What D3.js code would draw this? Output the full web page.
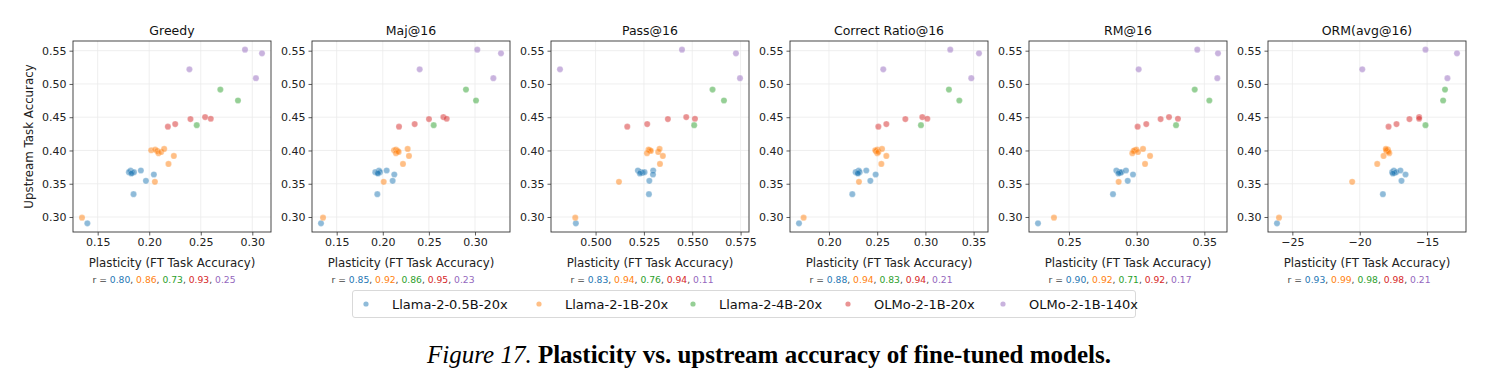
<!DOCTYPE html>
<html><head><meta charset="utf-8">
<script src="https://cdn.jsdelivr.net/npm/d3@7"></script>
<style>body{margin:0;background:#fff}text{font-family:"DejaVu Sans",sans-serif}text.cap{font-family:"Liberation Serif","Times New Roman",serif}</style>
</head><body><svg id="c" width="1489" height="385"></svg>
<script>
const panelTitles = ["Greedy","Maj@16","Pass@16","Correct Ratio@16","RM@16","ORM(avg@16)"];
const seriesNames = ["Llama-2-0.5B-20x","Llama-2-1B-20x","Llama-2-4B-20x","OLMo-2-1B-20x","OLMo-2-1B-140x"];
const seriesColors = ["#1f77b4","#ff7f0e","#2ca02c","#d62728","#9467bd"];
// upstream accuracy per series (same in every panel)
const yLlama05 = [0.3699,0.3674,0.3664,0.3674,0.3654,0.3699,0.3639,0.3544,0.3343,0.2905];
const yLlama1  = [0.4003,0.4013,0.3993,0.3960,0.3978,0.4023,0.3918,0.3798,0.3529,0.2990];
const yLlama4  = [0.4916,0.4751,0.4380];
const yOlmo20  = [0.4357,0.4397,0.4472,0.4502,0.4477];
const yOlmo140 = [0.5515,0.5460,0.5220,0.5086];
// plasticity per panel, per series
const xGreedy = [
  [0.1819,0.1803,0.1835,0.1852,0.1826,0.1919,0.2045,0.1968,0.1848,0.1400],
  [0.2019,0.2058,0.2077,0.2090,0.2116,0.2145,0.2239,0.2187,0.2055,0.1348],
  [0.2690,0.2861,0.2461],
  [0.2181,0.2252,0.2400,0.2542,0.2597],
  [0.2929,0.3094,0.2390,0.3035]];
const xMaj = [
  [0.1959,0.1919,0.1941,0.1970,0.1948,0.2042,0.2125,0.2107,0.1941,0.1330],
  [0.2122,0.2143,0.2161,0.2143,0.2172,0.2270,0.2284,0.2219,0.2010,0.1352],
  [0.2902,0.3011,0.2552],
  [0.2176,0.2346,0.2501,0.2657,0.2693],
  [0.3025,0.3282,0.2400,0.3199]];
const xPass = [
  [0.5219,0.5233,0.5243,0.5253,0.5229,0.5298,0.5297,0.5278,0.5276,0.4898],
  [0.5281,0.5274,0.5286,0.5266,0.5324,0.5331,0.5348,0.5333,0.5121,0.4895],
  [0.5605,0.5664,0.5510],
  [0.5164,0.5267,0.5374,0.5469,0.5514],
  [0.5447,0.5726,0.4816,0.5747]];
const xCorrect = [
  [0.2308,0.2277,0.2297,0.2318,0.2300,0.2387,0.2484,0.2429,0.2242,0.1689],
  [0.2480,0.2501,0.2487,0.2501,0.2512,0.2550,0.2595,0.2543,0.2311,0.1737],
  [0.3244,0.3352,0.2954],
  [0.2512,0.2595,0.2792,0.2968,0.3020],
  [0.3258,0.3556,0.2563,0.3476]];
const xRM = [
  [0.2850,0.2870,0.2879,0.2887,0.2865,0.2921,0.2973,0.2934,0.2825,0.2271],
  [0.2985,0.2998,0.2978,0.2968,0.3010,0.3047,0.3099,0.3062,0.2867,0.2389],
  [0.3429,0.3537,0.3291],
  [0.3007,0.3071,0.3177,0.3239,0.3305],
  [0.3448,0.3601,0.3015,0.3596]];
const xORM = [
  [-17.47,-17.59,-17.42,-17.30,-17.54,-16.98,-16.60,-16.90,-18.28,-26.14],
  [-18.04,-17.91,-17.99,-17.81,-17.86,-18.06,-18.23,-18.70,-20.56,-25.99],
  [-13.67,-13.81,-15.12],
  [-17.86,-17.27,-16.31,-15.59,-15.59],
  [-15.12,-12.78,-19.81,-13.49]];
const rValues = [
  ["0.80","0.86","0.73","0.93","0.25"],
  ["0.85","0.92","0.86","0.95","0.23"],
  ["0.83","0.94","0.76","0.94","0.11"],
  ["0.88","0.94","0.83","0.94","0.21"],
  ["0.90","0.92","0.71","0.92","0.17"],
  ["0.93","0.99","0.98","0.98","0.21"]];
const xTicks = [
  [0.15,0.20,0.25,0.30],[0.15,0.20,0.25,0.30],[0.500,0.525,0.550,0.575],
  [0.20,0.25,0.30,0.35],[0.25,0.30,0.35],[-25,-20,-15]];
const xTickFormats = [".2f",".2f",".3f",".2f",".2f","d"];
const yTicks = [0.30,0.35,0.40,0.45,0.50,0.55];
const yLabel = "Upstream Task Accuracy";
const xLabel = "Plasticity (FT Task Accuracy)";

const ySeries = [yLlama05,yLlama1,yLlama4,yOlmo20,yOlmo140];
const xPanels = [xGreedy,xMaj,xPass,xCorrect,xRM,xORM];

const svg = d3.select("#c");
svg.append("rect").attr("width",1489).attr("height",385).attr("fill","#fff");

const left0 = 73, step = 239, pw = 198, pTop = 41, pBot = 232;
const allY = ySeries.flat();
const yPad = (d3.max(allY)-d3.min(allY))*0.05;
const y = d3.scaleLinear().domain([d3.min(allY)-yPad, d3.max(allY)+yPad]).range([pBot, pTop]);

xPanels.forEach((xs, p) => {
  const L = left0 + p*step;
  const allX = xs.flat();
  const pad = (d3.max(allX)-d3.min(allX))*0.05;
  const x = d3.scaleLinear().domain([d3.min(allX)-pad, d3.max(allX)+pad]).range([L, L+pw]);
  const g = svg.append("g");
  // grid
  g.selectAll(".gx").data(xTicks[p]).join("line")
    .attr("x1",d=>x(d)).attr("x2",d=>x(d)).attr("y1",pTop).attr("y2",pBot)
    .attr("stroke","#ebebeb").attr("stroke-width",0.8);
  g.selectAll(".gy").data(yTicks).join("line")
    .attr("x1",L).attr("x2",L+pw).attr("y1",d=>y(d)).attr("y2",d=>y(d))
    .attr("stroke","#ebebeb").attr("stroke-width",0.8);
  // points
  ySeries.forEach((ys, s) => {
    g.selectAll(null).data(ys.map((v,i)=>[xs[s][i], v])).join("circle")
      .attr("cx",d=>x(d[0])).attr("cy",d=>y(d[1])).attr("r",3.1)
      .attr("fill",seriesColors[s]).attr("fill-opacity",0.5)
      .attr("stroke","#fff").attr("stroke-width",0.4).attr("stroke-opacity",0.6);
  });
  // axes
  const fmt = xTickFormats[p]==="d" ? (d=>String(d).replace("-","\u2212")) : d3.format(xTickFormats[p]);
  const ax = g.append("g").attr("transform",`translate(0,${pBot})`)
    .call(d3.axisBottom(x).tickValues(xTicks[p]).tickFormat(fmt).tickSizeOuter(0).tickSize(3.5).tickPadding(3));
  const ay = g.append("g").attr("transform",`translate(${L},0)`)
    .call(d3.axisLeft(y).tickValues(yTicks).tickFormat(d3.format(".2f")).tickSizeOuter(0).tickSize(3.5).tickPadding(3));
  [ax,ay].forEach(a=>{
    a.select(".domain").remove();
    a.selectAll("line").attr("stroke","#333").attr("stroke-width",0.8);
    a.selectAll("text").attr("font-size",11).attr("fill","#222");
  });
  g.append("rect").attr("x",L).attr("y",pTop).attr("width",pw).attr("height",pBot-pTop)
    .attr("fill","none").attr("stroke","#333").attr("stroke-width",0.9);
  // title
  g.append("text").attr("x",L+pw/2).attr("y",pTop-6).attr("text-anchor","middle")
    .attr("font-size",12.5).attr("fill","#111").text(panelTitles[p]);
  // x label
  g.append("text").attr("x",L+pw/2).attr("y",267).attr("text-anchor","middle")
    .attr("font-size",11.8).attr("fill","#222").text(xLabel);
  // r line
  const t = g.append("text").attr("x",L+pw/2-8).attr("y",282.5).attr("text-anchor","middle")
    .attr("font-size",9.2).attr("fill","#444");
  t.append("tspan").text("r = ");
  rValues[p].forEach((r,i)=>{
    t.append("tspan").attr("fill",seriesColors[i]).text(r);
    if(i<4) t.append("tspan").attr("fill","#444").text(", ");
  });
});
// y label
svg.append("text").attr("transform",`translate(33,${(pTop+pBot)/2}) rotate(-90)`)
  .attr("text-anchor","middle").attr("font-size",11.8).attr("fill","#222").text(yLabel);

// legend
const lg = svg.append("g");
lg.append("rect").attr("x",352.5).attr("y",290.5).attr("width",783).attr("height",27).attr("rx",2.5)
  .attr("fill","#fff").attr("stroke","#d5d5d5").attr("stroke-width",0.9);
const legX = [366,539,693,848,1003];
seriesNames.forEach((n,i)=>{
  lg.append("circle").attr("cx",legX[i]).attr("cy",304).attr("r",2.6)
    .attr("fill",seriesColors[i]).attr("fill-opacity",0.5);
  lg.append("text").attr("x",legX[i]+26).attr("y",308.5).attr("font-size",13).attr("fill","#111").text(n);
});

// caption
const cap = svg.append("text").attr("class","cap").attr("x",769).attr("y",363).attr("text-anchor","middle")
  .attr("font-size",25).attr("fill","#000");
cap.append("tspan").attr("font-style","italic").text("Figure 17. ");
cap.append("tspan").attr("font-weight","bold").text("Plasticity vs. upstream accuracy of fine-tuned models.");
</script></body></html>
